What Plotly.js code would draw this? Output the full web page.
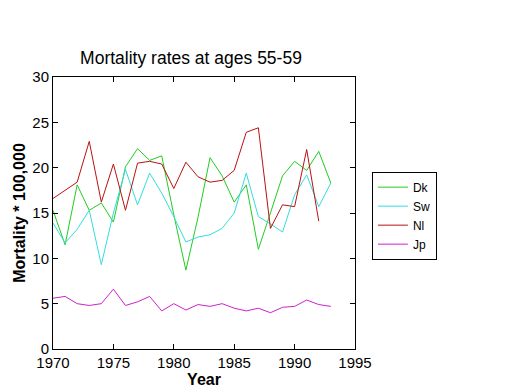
<!DOCTYPE html>
<html>
<head>
<meta charset="utf-8">
<script src="https://cdn.plot.ly/plotly-3.0.1.min.js"></script>
<style>html,body{margin:0;padding:0;background:#fff;}#chart{width:520px;height:390px;}</style>
</head>
<body>
<div id="chart"></div>
<script>
const years = [1970,1971,1972,1973,1974,1975,1976,1977,1978,1979,1980,1981,1982,1983,1984,1985,1986,1987,1988,1989,1990,1991,1992,1993];
const dk = [15.3,11.5,18.1,15.3,16.1,14.0,20.1,22.1,20.8,21.3,14.8,8.7,14.5,21.1,19.1,16.2,18.1,11.0,15.0,19.1,20.7,19.7,21.8,18.3];
const sw = [13.9,11.7,13.2,15.3,9.3,15.0,19.8,15.9,19.4,17.2,14.6,11.8,12.35,12.6,13.3,15.0,19.4,14.6,13.8,12.9,17.0,19.2,15.7,18.3];
const nl = [16.6,17.5,18.4,22.9,16.2,20.4,15.3,20.5,20.7,20.4,17.7,20.6,19.0,18.4,18.6,19.7,23.9,24.4,13.3,15.9,15.7,22.0,14.1];
const jp = [5.6,5.8,5.0,4.8,5.0,6.6,4.8,5.2,5.8,4.2,5.0,4.3,4.9,4.7,5.0,4.5,4.2,4.5,4.0,4.6,4.7,5.4,4.9,4.7];
const names = ['Dk','Sw','Nl','Jp'];
const colors = ['#22cc22','#33dddd','#bb1111','#cc22cc'];
const series = [dk, sw, nl, jp];

const traces = series.map((s, i) => ({
  x: years.slice(0, s.length), y: s, name: names[i], type: 'scatter', mode: 'lines',
  line: {color: colors[i], width: 1}
}));

const axisCommon = {
  showline: true, linecolor: '#000', linewidth: 1, mirror: 'ticks',
  ticks: 'inside', ticklen: 5, tickcolor: '#000', showgrid: false, zeroline: false,
  tickfont: {family: 'Liberation Sans, Arial', size: 15, color: '#000'}
};

const layout = {
  width: 520, height: 390,
  margin: {l: 53, r: 165, t: 77, b: 41},
  paper_bgcolor: '#fff', plot_bgcolor: '#fff',
  font: {family: 'Liberation Sans, Arial', color: '#000'},
  title: {text: 'Mortality rates at ages 55-59', font: {size: 17.5, color: '#000'},
          x: 0.457, xref: 'paper', xanchor: 'center', y: 0.851, yanchor: 'middle'},
  xaxis: Object.assign({}, axisCommon, {range: [1970, 1995], tickvals: [1970,1975,1980,1985,1990,1995],
          title: {text: '<b>Year</b>', font: {size: 16}, standoff: 0}}),
  yaxis: Object.assign({}, axisCommon, {range: [0, 30], tickvals: [0,5,10,15,20,25,30],
          title: {text: '<b>Mortality * 100,000</b>', font: {size: 16}, standoff: 2}}),
  legend: {x: 1.056, y: 0.652, xanchor: 'left', yanchor: 'top', bordercolor: '#000', borderwidth: 1,
           bgcolor: '#fff', font: {size: 12, color: '#000'}, tracegroupgap: 0, itemwidth: 30},
  showlegend: true
};

Plotly.newPlot('chart', traces, layout, {displayModeBar: false, staticPlot: true});
</script>
</body>
</html>
